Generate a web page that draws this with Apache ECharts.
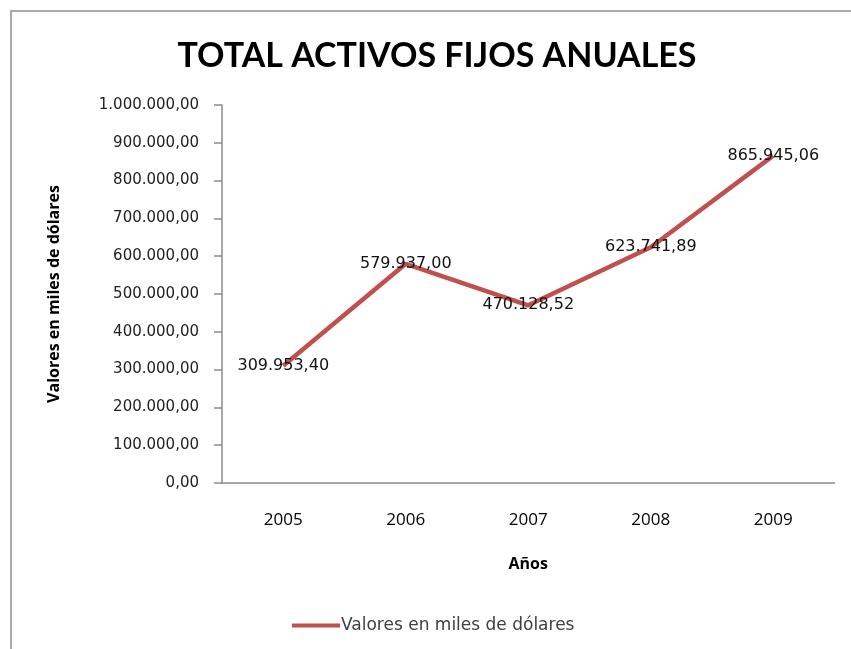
<!DOCTYPE html>
<html>
<head>
<meta charset="utf-8">
<script src="https://cdn.jsdelivr.net/npm/echarts@6/dist/echarts.min.js"></script>
<style>
  html, body { margin: 0; padding: 0; background: #fff; overflow: hidden; }
  .frame {
    position: absolute; left: 10px; top: 10px;
    width: 900px; height: 700px;
    border-left: 2px solid #a9a9a9; border-top: 2px solid #a9a9a9;
  }
  .chart { position: absolute; left: 0; top: 0; width: 851px; height: 649px; }
</style>
</head>
<body>
<div class="frame"></div>
<div class="chart" id="chart"></div>
<script>
// años y valores (miles de dólares)
const years = ["2005", "2006", "2007", "2008", "2009"];
const valores = [309953.40, 579937.00, 470128.52, 623741.89, 865945.06];
const serieName = "Valores en miles de dólares";

// formato español: 1.234.567,89
function fmt(v) {
  let parts = v.toFixed(2).split(".");
  parts[0] = parts[0].replace(/\B(?=(\d{3})+(?!\d))/g, ".");
  return parts[0] + "," + parts[1];
}

let chart = echarts.init(document.getElementById("chart"));
let option = {
  backgroundColor: "transparent",
  animation: false,
  title: {
    text: "TOTAL ACTIVOS FIJOS ANUALES",
    left: 432,
    textAlign: "center",
    top: 34,
    textStyle: {
      fontFamily: "Lato",
      fontWeight: "bold",
      fontSize: 34,
      color: "#000",
    },
  },
  grid: {
    left: 222,
    right: 16.5,
    top: 105,
    bottom: 166,
  },
  legend: {
    data: [serieName],
    left: 287,
    top: 612,
    icon: "rect",
    itemWidth: 48,
    itemHeight: 4,
    itemGap: 2,
    itemStyle: { color: "#C0504D", opacity: 1 },
    textStyle: {
      fontFamily: "DejaVu Sans",
      fontSize: 17,
      color: "#404040",
      padding: [0, 0, 0, -4],
    },
  },
  xAxis: {
    type: "category",
    data: years,
    boundaryGap: true,
    name: "Años",
    nameLocation: "middle",
    nameGap: 73,
    nameTextStyle: {
      fontFamily: "Open Sans",
      fontWeight: "bold",
      fontSize: 16,
      color: "#000",
    },
    axisLine: {
      show: true,
      lineStyle: { color: "#8c8c8c", width: 1.5 },
    },
    axisTick: { show: false },
    axisLabel: {
      margin: 29,
      fontFamily: "Open Sans",
      fontSize: 17,
      color: "#000",
    },
    splitLine: { show: false },
  },
  yAxis: {
    type: "value",
    min: 0,
    max: 1000000,
    interval: 100000,
    name: "Valores en miles de dólares",
    nameLocation: "middle",
    nameGap: 160,
    nameRotate: 90,
    nameTextStyle: {
      fontFamily: "Open Sans",
      fontWeight: "bold",
      fontSize: 16,
      color: "#000",
    },
    axisLine: {
      show: true,
      lineStyle: { color: "#8c8c8c", width: 1.5 },
    },
    axisTick: {
      show: true,
      length: 8,
      lineStyle: { color: "#8c8c8c", width: 1.5 },
    },
    axisLabel: {
      margin: 23,
      fontFamily: "DejaVu Sans",
      fontSize: 15,
      color: "#222",
      formatter: function (v) {
        return fmt(v);
      },
    },
    splitLine: { show: false },
  },
  series: [
    {
      name: serieName,
      type: "line",
      data: valores,
      symbol: "circle",
      symbolSize: 1,
      showSymbol: true,
      itemStyle: { color: "transparent" },
      lineStyle: { color: "#C0504D", width: 4.5 },
      label: {
        show: true,
        position: "inside",
        fontFamily: "DejaVu Sans",
        fontSize: 16,
        color: "#111",
        formatter: function (p) {
          return fmt(p.value);
        },
      },
    },
  ],
};
chart.setOption(option);
</script>
</body>
</html>
